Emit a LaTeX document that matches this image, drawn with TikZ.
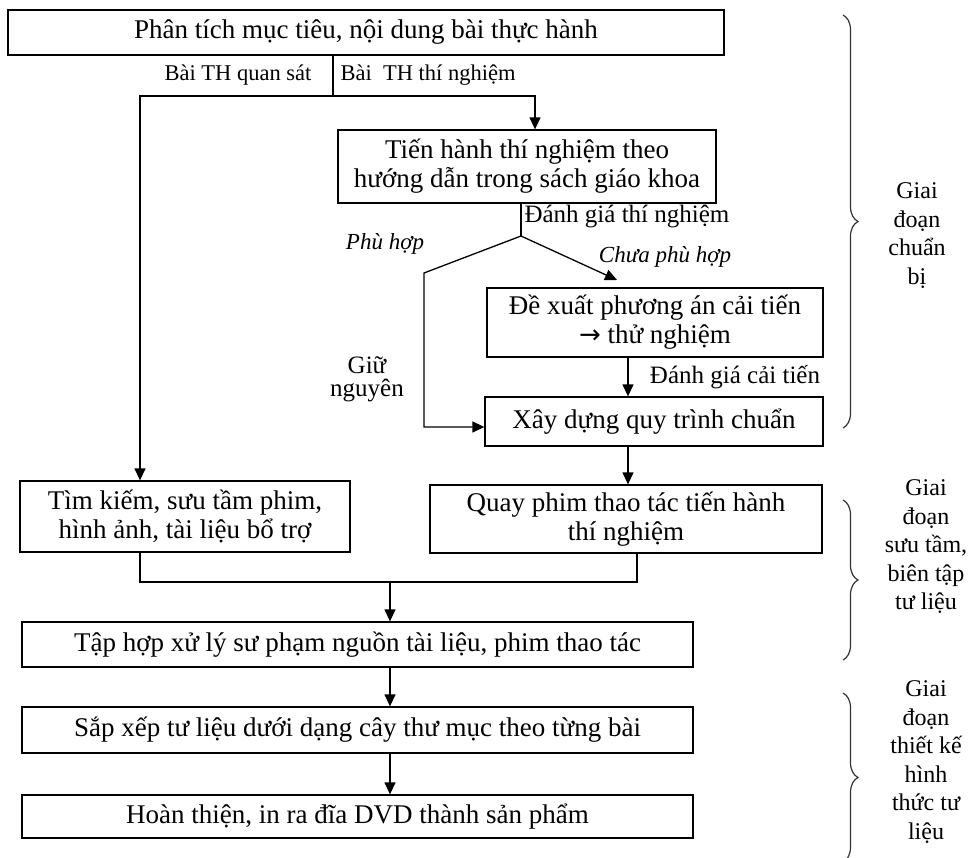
\documentclass[tikz,border=0pt]{standalone}
\usepackage{fontspec}
\setmainfont{Liberation Serif}
\usetikzlibrary{arrows.meta,decorations.pathreplacing}
\begin{document}
\begin{tikzpicture}[x=1pt,y=-1pt,
  box/.style={draw,line width=1.3pt,align=center,inner sep=0pt,font=\fontsize{27}{29}\selectfont},
  lbl/.style={inner sep=0pt,align=center,font=\fontsize{25}{27}\selectfont},
  lbls/.style={inner sep=0pt,align=center,font=\fontsize{22.5}{24}\selectfont},
  lbli/.style={inner sep=0pt,align=center,font=\fontsize{23}{25}\selectfont\itshape},
  stage/.style={inner sep=0pt,align=center,font=\fontsize{24}{28.5}\selectfont},
  ln/.style={line width=1.3pt},
  arr/.style={line width=1.3pt,-{Triangle[length=12pt,width=11pt]}},
  brc/.style={line width=1.2pt,draw=black!80,decorate,decoration={brace,amplitude=15pt}}
]
\useasboundingbox (0,0) rectangle (969,857);

% boxes
\node[box,minimum width=716pt,minimum height=45pt] (b1) at (366,32.5) {Phân tích mục tiêu, nội dung bài thực hành};
\node[box,minimum width=378pt,minimum height=73pt] (b2) at (527,166.5) {Tiến hành thí nghiệm theo\\hướng dẫn trong sách giáo khoa};
\node[box,minimum width=336pt,minimum height=69pt] (b3) at (655,322.5) {Đề xuất phương án cải tiến\\{\fontspec{DejaVu Sans}\fontsize{26}{29}\selectfont →} thử nghiệm};
\node[box,minimum width=338pt,minimum height=49pt] (b4) at (654,421.5) {Xây dựng quy trình chuẩn};
\node[box,minimum width=330pt,minimum height=71pt] (b5) at (185,516.5) {Tìm kiếm, sưu tầm phim,\\hình ảnh, tài liệu bổ trợ};
\node[box,minimum width=392pt,minimum height=68pt] (b6) at (626,519) {Quay phim thao tác tiến hành\\thí nghiệm};
\node[box,minimum width=671pt,minimum height=45pt] (b7) at (357.5,644.5) {Tập hợp xử lý sư phạm nguồn tài liệu, phim thao tác};
\node[box,minimum width=671pt,minimum height=46pt] (b8) at (357.5,730) {Sắp xếp tư liệu dưới dạng cây thư mục theo từng bài};
\node[box,minimum width=671pt,minimum height=43pt] (b9) at (357.5,816.5) {Hoàn thiện, in ra đĩa DVD thành sản phẩm};

% labels
\node[lbls] (lq) at (238,75) {Bài TH quan sát};
\node[lbls] (ltn) at (428,75) {Bài\ \ TH thí nghiệm};
\node[lbl] (ldg) at (627,216) {Đánh giá thí nghiệm};
\node[lbli] (lph) at (385,244) {Phù hợp};
\node[lbli] (lcph) at (665,257) {Chưa phù hợp};
\node[lbl,font=\fontsize{25}{23}\selectfont] (lgn) at (367,379) {Giữ\\nguyên};
\node[lbl] (ldc) at (735,377) {Đánh giá cải tiến};

% connectors
\coordinate (s1) at (333,96);
\coordinate (sl) at (140,96);
\coordinate (sr) at (535,96);
\draw[ln] (b1.south -| s1) -- (s1);
\draw[arr] (s1) -- (sl) -- (sl |- b5.north);
\draw[arr] (s1) -- (sr) -- (sr |- b2.north);

\coordinate (j2) at (521,236);
\coordinate (bl) at (424,273);
\coordinate (bd) at (424,427);
\coordinate (tip) at (617,280);
\draw[ln] (b2.south -| j2) -- (j2);
\draw[arr] (j2) -- (bl) -- (bd) -- (bd -| b4.west);
\draw[arr] (j2) -- (tip);

\coordinate (c1) at (628,0);
\draw[arr] (b3.south -| c1) -- (b4.north -| c1);
\draw[arr] (b4.south -| c1) -- (b6.north -| c1);

\coordinate (m1) at (140,582);
\coordinate (m2) at (637,582);
\coordinate (mc) at (390,582);
\draw[ln] (b5.south -| m1) -- (m1) -- (m2) -- (b6.south -| m2);
\draw[arr] (mc) -- (b7.north -| mc);
\draw[arr] (b7.south -| mc) -- (b8.north -| mc);
\draw[arr] (b8.south -| mc) -- (b9.north -| mc);

% braces
\coordinate (br1a) at (843,15);
\coordinate (br1b) at (843,428);
\coordinate (br2a) at (843,500);
\coordinate (br2b) at (843,660);
\coordinate (br3a) at (843,693);
\coordinate (br3b) at (843,862);
\draw[brc] (br1a) -- (br1b);
\draw[brc] (br2a) -- (br2b);
\draw[brc] (br3a) -- (br3b);

\node[stage] (st1) at (917,235.5) {Giai\\đoạn\\chuẩn\\bị};
\node[stage] (st2) at (926,547) {Giai\\đoạn\\sưu tầm,\\biên tập\\tư liệu};
\node[stage] (st3) at (926,762) {Giai\\đoạn\\thiết kế\\hình\\thức tư\\liệu};
\end{tikzpicture}
\end{document}
